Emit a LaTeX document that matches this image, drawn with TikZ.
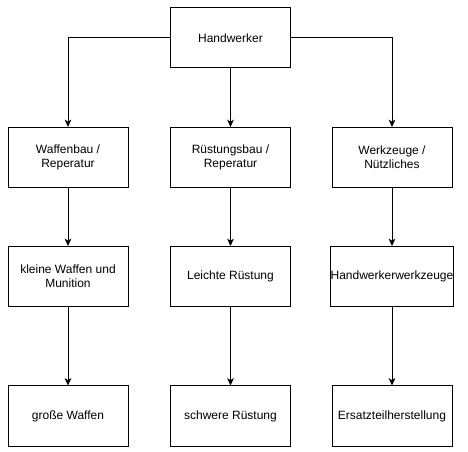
\documentclass[tikz,border=0pt]{standalone}
\usepackage{fontspec}
\setmainfont{Liberation Sans}
\usetikzlibrary{arrows.meta}
\begin{document}
\begin{tikzpicture}[x=0.75pt,y=-0.75pt,
  box/.style={draw,line width=0.75pt,minimum width=90pt,minimum height=45pt,align=center,font=\fontsize{9}{10.5}\selectfont,inner sep=0pt},
  conn/.style={draw,line width=0.75pt,-{Stealth[length=5.5pt,width=5pt,inset=1.5pt]}}]
\useasboundingbox (0,0) rectangle (468,452);
\node[box] (top) at (230.5,38) {Handwerker};
\node[box] (a1) at (68,157.5) {Waffenbau /\\Reperatur};
\node[box] (b1) at (230.5,157.5) {Rüstungsbau /\\Reperatur};
\node[box] (c1) at (392,157.5) {Werkzeuge /\\Nützliches};
\node[box] (a2) at (68,276.5) {kleine Waffen und\\Munition};
\node[box] (b2) at (230.5,276.5) {Leichte Rüstung};
\node[box] (c2) at (392,276.5) {Handwerkerwerkzeuge};
\node[box] (a3) at (68,416) {große Waffen};
\node[box] (b3) at (230.5,416) {schwere Rüstung};
\node[box] (c3) at (392,416) {Ersatzteilherstellung};
\draw[conn] (top.west) -| (a1.north);
\draw[conn] (top.east) -| (c1.north);
\draw[conn] (top) -- (b1);
\draw[conn] (a1) -- (a2);
\draw[conn] (b1) -- (b2);
\draw[conn] (c1) -- (c2);
\draw[conn] (a2) -- (a3);
\draw[conn] (b2) -- (b3);
\draw[conn] (c2) -- (c3);
\end{tikzpicture}
\end{document}
